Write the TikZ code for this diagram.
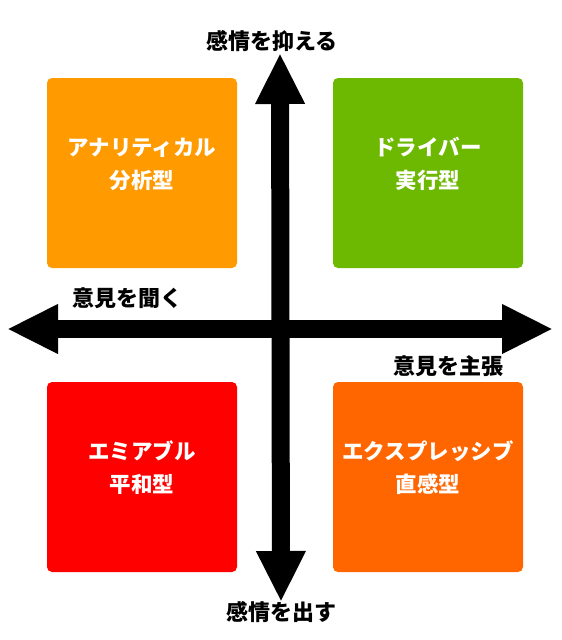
\documentclass[tikz,border=0pt]{standalone}
\usepackage{fontspec}
\newfontfamily\jp{Noto Sans CJK JP}
\usetikzlibrary{arrows.meta}
\definecolor{cOrange}{HTML}{FF9A00}
\definecolor{cGreen}{HTML}{6DB800}
\definecolor{cRed}{HTML}{FF0000}
\definecolor{cDeep}{HTML}{FF6600}
\tikzset{
  quad/.style={rounded corners=5pt, minimum width=190pt, minimum height=190pt, inner sep=0pt},
  quadtext/.style={text=white, align=center, inner sep=0pt, font=\jp\bfseries\fontsize{21.5}{33}\selectfont},
  axislabel/.style={font=\jp\bfseries\fontsize{22}{24}\selectfont, text=black, inner sep=0pt},
  bigarrow/.style={line width=18pt, {Triangle[length=51pt,width=46pt]}-{Triangle[length=51pt,width=46pt]}}
}
\begin{document}
\begin{tikzpicture}[x=1pt,y=-1pt]
\useasboundingbox[fill=white] (0,0) rectangle (562,640);
\node[quad, fill=cOrange] (ana) at (142,173) {};
\node[quad, fill=cGreen] (dri) at (428,173) {};
\node[quad, fill=cRed] (ami) at (142,477) {};
\node[quad, fill=cDeep] (exp) at (428,477) {};
\node[quadtext] (anat) at ([yshift=9pt]ana.center) {アナリティカル\\分析型};
\node[quadtext] (drit) at ([yshift=9pt]dri.center) {ドライバー\\実行型};
\node[quadtext] (amit) at ([yshift=9pt]ami.center) {エミアブル\\平和型};
\node[quadtext] (expt) at ([yshift=9pt]exp.center) {エクスプレッシブ\\直感型};
\coordinate (top) at (280,53);
\coordinate (bot) at (281,602);
\coordinate (lft) at (7,329);
\coordinate (rgt) at (553,329);
\draw[bigarrow] (lft) -- (rgt);
\draw[bigarrow] (top) -- (bot);
\node[axislabel] (lt) at (272,41) {感情を抑える};
\node[axislabel] (lb) at (281,612) {感情を出す};
\node[axislabel] (ll) at (127,298) {意見を聞く};
\node[axislabel] (lr) at (448,366) {意見を主張};
\end{tikzpicture}
\end{document}
